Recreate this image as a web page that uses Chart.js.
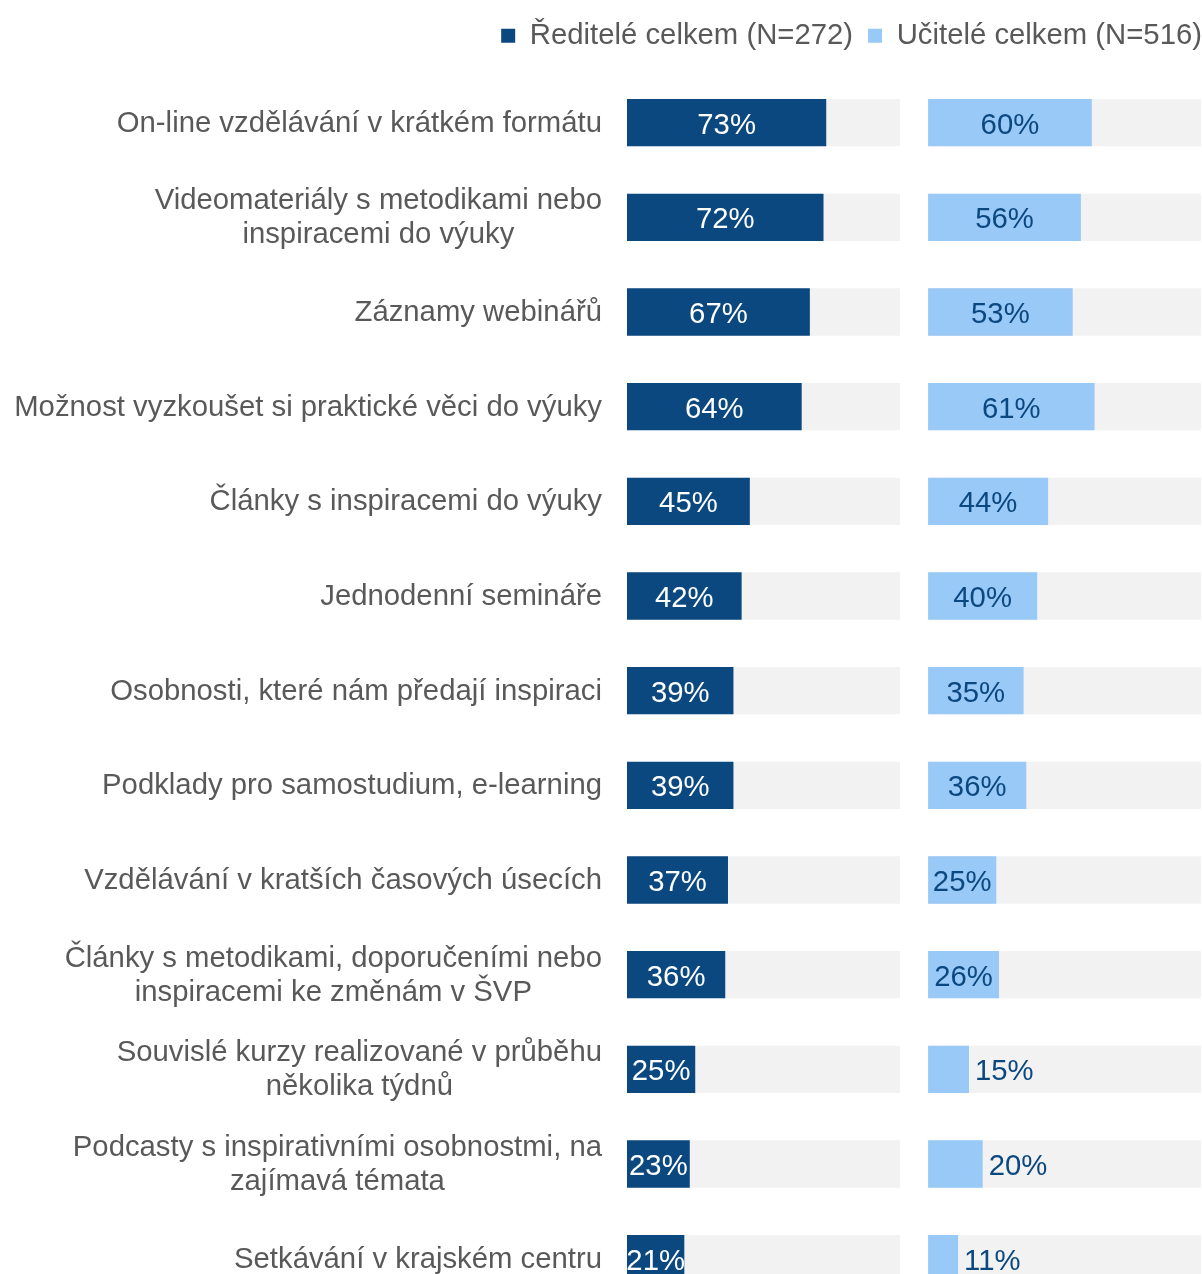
<!DOCTYPE html>
<html lang="cs">
<head>
  <meta charset="UTF-8">
  <title>Formy vzdělávání</title>
  <script src="https://cdn.jsdelivr.net/npm/chart.js"></script>
  <style>
    html, body {
      margin: 0;
      padding: 0;
      background: #fff;
      overflow: hidden;
    }
    .chart-box {
      position: relative;
      width: 1202px;
      height: 1306px;
    }
  </style>
</head>
<body>
  <div class="chart-box">
    <canvas id="chart"></canvas>
  </div>

  <script>
    // Data
    const categories = [
      ['On-line vzdělávání v krátkém formátu'],
      ['Videomateriály s metodikami nebo', 'inspiracemi do výuky'],
      ['Záznamy webinářů'],
      ['Možnost vyzkoušet si praktické věci do výuky'],
      ['Články s inspiracemi do výuky'],
      ['Jednodenní semináře'],
      ['Osobnosti, které nám předají inspiraci'],
      ['Podklady pro samostudium, e-learning'],
      ['Vzdělávání v kratších časových úsecích'],
      ['Články s metodikami, doporučeními nebo', 'inspiracemi ke změnám v ŠVP'],
      ['Souvislé kurzy realizované v průběhu', 'několika týdnů'],
      ['Podcasty s inspirativními osobnostmi, na', 'zajímavá témata'],
      ['Setkávání v krajském centru']
    ];
    const reditele = [73, 72, 67, 64, 45, 42, 39, 39, 37, 36, 25, 23, 21];
    const ucitele = [60, 56, 53, 61, 44, 40, 35, 36, 25, 26, 15, 20, 11];
    const trackMax = categories.map(() => 100);
    const seriesNames = ['Ředitelé celkem (N=272)', 'Učitelé celkem (N=516)'];

    const DARK = '#0b4880';
    const LIGHT = '#99c9f7';
    const TRACK = '#f2f2f2';
    const TEXT = '#595959';
    const FONT = '"Liberation Sans", Arial, sans-serif';

    // extra room under the legend, legend pushed to the right edge
    const legendSpace = {
      id: 'legendSpace',
      beforeInit(chart) {
        const fit = chart.legend.fit;
        chart.legend.fit = function () {
          fit.bind(chart.legend)();
          this.height += 15;
        };
      },
      afterLayout(chart) {
        chart.legend.left += 16;
        chart.legend.right += 16;
      }
    };

    // category labels: block right aligned, lines centred to each other
    const categoryLabels = {
      id: 'categoryLabels',
      afterDraw(chart) {
        const ctx = chart.ctx;
        const y = chart.scales.y;
        const right = chart.chartArea.left - 25;
        const lineH = 34;
        ctx.save();
        ctx.font = '29.3px ' + FONT;
        ctx.fillStyle = TEXT;
        ctx.textAlign = 'center';
        ctx.textBaseline = 'middle';
        categories.forEach((lines, i) => {
          const w = Math.max(...lines.map(l => ctx.measureText(l).width));
          const cx = right - w / 2;
          const cy = y.getPixelForValue(i) + 1;
          const top = cy - (lines.length - 1) * lineH / 2;
          lines.forEach((l, k) => ctx.fillText(l, cx, top + k * lineH));
        });
        ctx.restore();
      }
    };

    // percentage labels on bars
    const valueLabels = {
      id: 'valueLabels',
      afterDatasetsDraw(chart) {
        const ctx = chart.ctx;
        ctx.save();
        ctx.font = '29.3px ' + FONT;
        ctx.textBaseline = 'middle';
        [0, 1].forEach(di => {
          const meta = chart.getDatasetMeta(di);
          const data = chart.data.datasets[di].data;
          meta.data.forEach((bar, i) => {
            const txt = data[i] + '%';
            const tw = ctx.measureText(txt).width;
            const bw = bar.x - bar.base;
            if (di === 0) {
              ctx.fillStyle = '#ffffff';
              ctx.textAlign = 'center';
              ctx.fillText(txt, (bar.x + bar.base) / 2, bar.y + 3);
            } else if (bw >= tw + 6) {
              ctx.fillStyle = DARK;
              ctx.textAlign = 'center';
              ctx.fillText(txt, (bar.x + bar.base) / 2, bar.y + 3);
            } else {
              ctx.fillStyle = DARK;
              ctx.textAlign = 'left';
              ctx.fillText(txt, bar.x + 6, bar.y + 3);
            }
          });
        });
        ctx.restore();
      }
    };

    const ctx = document.getElementById('chart').getContext('2d');
    new Chart(ctx, {
      type: 'bar',
      data: {
        labels: categories,
        datasets: [
          { label: seriesNames[0], data: reditele, xAxisID: 'x1', backgroundColor: DARK, order: 0 },
          { label: seriesNames[1], data: ucitele, xAxisID: 'x2', backgroundColor: LIGHT, order: 0 },
          { label: 'track1', data: trackMax, xAxisID: 'x1', backgroundColor: TRACK, order: 1 },
          { label: 'track2', data: trackMax, xAxisID: 'x2', backgroundColor: TRACK, order: 1 }
        ]
      },
      options: {
        indexAxis: 'y',
        responsive: true,
        maintainAspectRatio: false,
        animation: false,
        layout: { padding: { left: 0, right: 1, top: 6, bottom: 0 } },
        datasets: {
          bar: {
            grouped: false,
            categoryPercentage: 1,
            barPercentage: 0.5,
            borderWidth: 0
          }
        },
        scales: {
          y: {
            grid: { display: false },
            border: { display: false },
            ticks: { display: false },
            afterFit(scale) { scale.width = 627; }
          },
          x1: {
            position: 'bottom',
            stack: 'panels',
            stackWeight: 110.3,
            min: 0,
            max: 110.3,
            display: false
          },
          x2: {
            position: 'bottom',
            stack: 'panels',
            stackWeight: 100,
            min: 0,
            max: 100,
            display: false
          }
        },
        plugins: {
          tooltip: { enabled: false },
          legend: {
            position: 'top',
            align: 'end',
            labels: {
              filter: item => item.datasetIndex < 2,
              boxWidth: 14,
              boxHeight: 14,
              padding: 15,
              color: TEXT,
              font: { size: 29.3, family: FONT }
            }
          }
        }
      },
      plugins: [legendSpace, categoryLabels, valueLabels]
    });
  </script>
</body>
</html>
